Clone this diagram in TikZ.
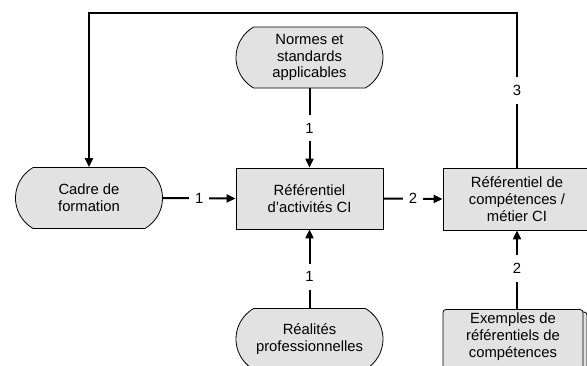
\documentclass[tikz,border=0pt]{standalone}
\usepackage{fontspec}
\setmainfont{Liberation Sans}
\usetikzlibrary{shapes.misc,arrows.meta}
\definecolor{boxgray}{HTML}{E2E2E2}
\tikzset{
  txt/.style={font=\fontsize{14.8}{16.8}\selectfont, align=center},
  stadium/.style={txt, rounded rectangle, rounded rectangle arc length=120, draw, line width=0.8pt, fill=boxgray, minimum width=147pt, minimum height=61pt, inner sep=0pt},
  boxn/.style={txt, rectangle, draw, line width=0.8pt, fill=boxgray, minimum width=147pt, minimum height=61pt, inner sep=0pt},
  card/.style={line width=0.8pt, fill=boxgray, rounded corners=3pt},
  conn/.style={line width=2pt, -{Triangle[length=9pt,width=8pt]}},
  lab/.style={txt, fill=white, inner xsep=6pt, inner ysep=8pt}
}
\begin{document}
\begin{tikzpicture}[x=1pt,y=-1pt]
\useasboundingbox (0,0) rectangle (587,365);
\clip (0,0) rectangle (587,365);
\node[stadium] (cadre) at (89,198) {Cadre de\\formation};
\node[boxn] (act) at (309.5,198.5) {Référentiel\\d’activités CI};
\node[stadium] (normes) at (309.5,57.5) {Normes et\\standards\\applicables};
\node[stadium] (real) at (309.5,339) {Réalités\\professionnelles};
\node[boxn, minimum width=148pt, minimum height=62pt] (comp) at (517,199) {Référentiel de\\compétences /\\métier CI};
% document stack
\draw[card] (447,312) rectangle (587,400);
\draw[card] (443,309.5) rectangle (583,400);
\node[txt, minimum width=140pt, minimum height=54pt, inner sep=0pt, anchor=north] (ex) at (513,309.5) {Exemples de\\référentiels de\\compétences};
\coordinate (top) at (0,13);
\draw[conn] (cadre.east) -- node[lab]{1} (act.west);
\draw[conn] (normes.south) -- node[lab]{1} (act.north);
\draw[conn] (real.north) -- node[lab, pos=0.4]{1} (act.south);
\draw[conn] (act.east) -- node[lab]{2} (comp.west);
\draw[conn] (comp.south |- ex.north) -- node[lab, pos=0.52]{2} (comp.south);
\draw[conn] (comp.north) -- node[lab, pos=0.5]{3} (comp.north |- top) -- (cadre.north |- top) -- (cadre.north);
\end{tikzpicture}
\end{document}
